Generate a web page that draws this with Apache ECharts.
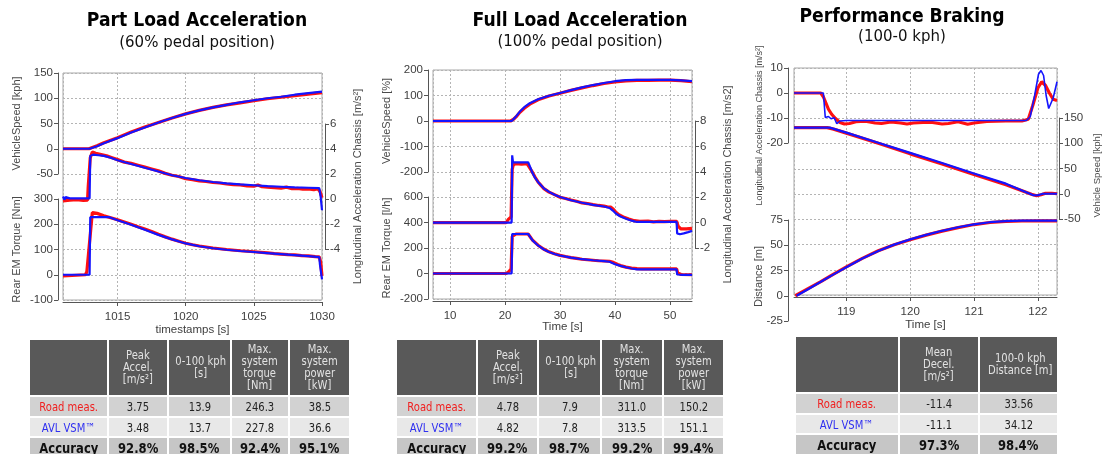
<!DOCTYPE html>
<html>
<head>
<meta charset="utf-8">
<script src="https://cdn.jsdelivr.net/npm/echarts@6/dist/echarts.min.js"></script>
<style>
  html, body { margin: 0; padding: 0; background: #fff; }
  #wrap { position: relative; width: 1107px; height: 454px; overflow: hidden; }
  #chart { position: absolute; left: 0; top: 0; width: 1107px; height: 454px; }
  table.kpi { position: absolute; z-index: 2; border-collapse: separate; border-spacing: 2px; table-layout: fixed;
    font-family: "DejaVu Sans", sans-serif; font-size: 12.5px; color: #222; }
  table.kpi td { padding: 0; text-align: center; vertical-align: middle; overflow: hidden; white-space: nowrap; }
  table.kpi td span { display: inline-block; transform: scaleX(0.8); line-height: 12.3px; }
  table.kpi td.hd { background: #595959; color: #e2e2e2; }
  table.kpi tr.road td { background: #d2d2d2; }
  table.kpi tr.sim td { background: #e8e8e8; }
  table.kpi tr.acc td { background: #c6c6c6; font-weight: bold; font-size: 14.5px; color: #111; }
  table.kpi tr.road td.lbl { color: #f02020; }
  table.kpi tr.sim td.lbl { color: #3030f0; }
</style>
</head>
<body>
<div id="wrap"><div id="chart"></div></div>
<script>
// ---- 데이터: [시간, 값] ----
// Part Load Acceleration (60% pedal)
const p1SpeedRoad = [[1011,0],[1012.9,0],[1013.5,6],[1014,12],[1015,22],[1016,33],[1017,43],[1018,52],[1019,61],[1020,69],[1021,76],[1022,82],[1023,87],[1024,91],[1025,95],[1026,99],[1027,102],[1028,105],[1029,108],[1030,111]];
const p1SpeedSim = [[1011,0],[1012.95,0],[1013.5,5],[1014,11],[1015,21],[1016,32],[1017,42],[1018,52],[1019,61],[1020,69],[1021,76],[1022,82],[1023,87],[1024,92],[1025,96],[1026,100],[1027,103],[1028,107],[1029,110],[1030,113]];
const p1AccelRoad = [[1011,-0.15],[1011.5,-0.1],[1012,-0.05],[1012.5,-0.12],[1012.8,-0.1],[1012.85,1],[1013,3.3],[1013.15,3.75],[1013.4,3.65],[1013.8,3.55],[1014.2,3.45],[1014.6,3.3],[1015,3.15],[1015.5,2.95],[1016,2.85],[1016.5,2.7],[1017,2.55],[1017.5,2.4],[1018,2.25],[1018.5,2.05],[1019,1.9],[1019.5,1.8],[1020,1.62],[1020.5,1.55],[1021,1.45],[1021.5,1.4],[1022,1.32],[1022.5,1.28],[1023,1.2],[1023.5,1.15],[1024,1.12],[1024.5,1.05],[1025,1.02],[1025.3,1.12],[1025.6,0.98],[1026,0.95],[1026.5,0.9],[1027,0.87],[1027.4,0.95],[1027.8,0.82],[1028.2,0.85],[1028.6,0.78],[1029,0.8],[1029.4,0.74],[1029.7,0.82],[1029.85,0.6],[1030,0.1]];
const p1AccelSim = [[1011,0.2],[1011.1,-0.05],[1011.2,0.15],[1011.3,0],[1011.5,0.05],[1012,0.05],[1012.95,0.05],[1013,3.45],[1013.2,3.55],[1013.6,3.5],[1014,3.45],[1014.5,3.3],[1015,3.1],[1016,2.8],[1017,2.5],[1018,2.2],[1019,1.9],[1020,1.68],[1021,1.5],[1022,1.36],[1023,1.25],[1024,1.17],[1025,1.1],[1026,1.03],[1027,0.98],[1028,0.93],[1029,0.9],[1029.8,0.87],[1029.9,0.2],[1030,-0.9]];
const p1TorqueRoad = [[1011,-5],[1011.1,0],[1012.65,0],[1012.75,12],[1013.15,246],[1013.5,243],[1014,234],[1014.5,226],[1015,218],[1015.5,209],[1016,200],[1016.5,190],[1017,181],[1017.5,171],[1018,160],[1018.5,150],[1019,141],[1019.5,133],[1020,125],[1020.5,119],[1021,114],[1022,106],[1022.5,103],[1023,100],[1024,95],[1025,91],[1026,87],[1026.5,84],[1027,82],[1027.5,80],[1028,79],[1028.5,76],[1029,75],[1029.5,72],[1029.8,71],[1029.9,50],[1030,-5]];
const p1TorqueSim = [[1011,0],[1012.95,0],[1013,228],[1014.4,228],[1015,216],[1016,198],[1017,178],[1018,158],[1019,140],[1020,124],[1021,113],[1022,105],[1023,99],[1024,94],[1025,90],[1026,86],[1027,82],[1028,78],[1029,74],[1029.8,70],[1029.85,40],[1030,-18]];

// Full Load Acceleration (100% pedal)
const p2SpeedRoad = [[6.9,0],[21,0],[21.5,6],[22,16],[22.7,34],[23.5,50],[24.5,66],[26,83],[28,98],[30,109],[32,120],[34,130],[36,139],[38,147],[40,153],[42,157],[44,159],[46,159],[48,160],[50,160],[52,158],[54,154]];
const p2SpeedSim = [[6.9,0],[21.2,0],[22,18],[22.7,37],[23.5,54],[24.5,70],[26,85],[28,99],[30,110],[32,121],[34,132],[36,141],[38,149],[40,156],[42,160],[44,161],[46,161],[48,161],[50,161],[52,159],[54,156]];
const p2AccelRoad = [[6.9,0],[20.2,0],[20.6,0.25],[21.1,0.45],[21.3,4.2],[21.5,4.55],[22,4.65],[23,4.6],[24,4.65],[24.5,4.3],[25,3.95],[25.5,3.55],[26,3.2],[26.5,2.95],[27,2.7],[28,2.4],[29,2.2],[30,2.0],[31,1.9],[32,1.78],[33,1.68],[34,1.55],[35,1.5],[36,1.42],[37,1.35],[38,1.3],[38.6,1.25],[39.2,1.22],[39.7,1.05],[40.2,0.8],[40.7,0.62],[41.5,0.45],[42.5,0.28],[43.5,0.15],[44.5,0.1],[46,0.12],[47,0.06],[48,0.1],[49,0.08],[50,0.1],[51.2,0.1],[51.5,-0.3],[52,-0.5],[53,-0.5],[54,-0.45]];
const p2AccelSim = [[6.9,0],[21.2,0],[21.3,5.3],[21.45,4.75],[24.2,4.75],[24.6,4.35],[25,3.9],[25.5,3.5],[26,3.2],[27,2.72],[28,2.42],[29,2.2],[30,2.02],[32,1.76],[34,1.56],[36,1.4],[38,1.27],[39,1.15],[39.6,0.95],[40.2,0.7],[41,0.48],[42,0.3],[43,0.15],[44,0.05],[51.2,0.05],[51.3,-0.85],[51.8,-0.92],[52.5,-0.85],[53.3,-0.75],[54,-0.65]];
const p2TorqueRoad = [[6.9,0],[20.2,0],[20.6,12],[21.1,35],[21.3,290],[21.6,305],[22,310],[24.2,310],[25,262],[26,222],[27,192],[28,170],[29,155],[30,142],[31,133],[32,125],[33,119],[34,112],[35,108],[36,104],[37,100],[38,98],[39,96],[39.5,90],[40,80],[40.5,70],[41,62],[42,50],[43,42],[44,38],[45,36],[48,36],[51.2,36],[51.4,5],[52,-8],[54,-10]];
const p2TorqueSim = [[6.9,0],[21.2,0],[21.3,310],[24.2,310],[25,260],[26,220],[27,190],[28,168],[29,153],[30,141],[32,124],[34,112],[36,104],[38,97],[39,92],[40,73],[41,60],[42,49],[43,39],[44,32],[51.2,32],[51.3,-8],[52,-10],[54,-10]];

// Performance Braking (100-0 kph)
const p3AccelRoad = [[118.18,0],[118.6,0],[118.64,-1.5],[118.68,-4],[118.72,-6.5],[118.77,-8.5],[118.83,-10.2],[118.9,-11.8],[118.97,-12.4],[119.05,-12.2],[119.15,-11.5],[119.3,-11.3],[119.45,-12],[119.55,-12.2],[119.7,-11.6],[119.85,-12],[119.95,-12.4],[120.05,-12],[120.2,-11.8],[120.35,-11.8],[120.5,-12.4],[120.6,-12.2],[120.75,-11.5],[120.9,-12.5],[121,-12],[121.2,-11.4],[121.5,-11.2],[121.75,-11.2],[121.85,-10.5],[121.92,-5],[122,2],[122.06,4.5],[122.12,3],[122.18,0],[122.24,-2.5],[122.3,-3]];
const p3AccelSim = [[118.18,0],[118.64,0],[118.67,-9.8],[118.72,-9.4],[118.76,-10.3],[118.81,-9.9],[118.85,-12.3],[118.9,-11.2],[119,-11],[121.82,-11],[121.88,-9.5],[121.95,-1],[122.01,7.5],[122.05,9],[122.09,7],[122.13,-1],[122.17,-6.2],[122.2,-6.5],[122.24,-2],[122.3,4.5]];
const p3SpeedRoad = [[118.18,131],[118.7,131],[118.8,128],[119,120],[119.5,100],[120,79],[120.5,59],[121,38],[121.5,18],[121.9,-1],[121.98,-4],[122.05,-2],[122.12,1],[122.22,1],[122.3,0]];
const p3SpeedSim = [[118.18,131],[118.74,131],[119,121],[119.5,101],[120,81],[120.5,61],[121,40],[121.5,20],[121.93,-3],[122,-3],[122.08,0],[122.3,0]];
const p3DistRoad = [[118.2,0],[118.4,7],[118.6,14],[118.8,21.5],[119,28.5],[119.25,37],[119.5,44.5],[119.75,50.5],[120,55.5],[120.25,60],[120.5,64],[120.75,67.5],[121,70.5],[121.25,72.5],[121.5,73.6],[121.75,74],[122,74.2],[122.3,74.2]];
const p3DistSim = [[118.22,0],[118.4,6.5],[118.6,13.8],[118.8,21.2],[119,28.3],[119.25,36.8],[119.5,44.3],[119.75,50.6],[120,55.8],[120.25,60.3],[120.5,64.3],[120.75,67.8],[121,70.7],[121.25,72.8],[121.5,73.9],[121.75,74.3],[122,74.4],[122.3,74.4]];

// 표
const p1Heads = [["Peak","Accel.","[m/s²]"],["0-100 kph","[s]"],["Max.","system","torque","[Nm]"],["Max.","system","power","[kW]"]];
const p1Road = ["3.75","13.9","246.3","38.5"];
const p1Sim = ["3.48","13.7","227.8","36.6"];
const p1Acc = ["92.8%","98.5%","92.4%","95.1%"];
const p2Heads = p1Heads;
const p2Road = ["4.78","7.9","311.0","150.2"];
const p2Sim = ["4.82","7.8","313.5","151.1"];
const p2Acc = ["99.2%","98.7%","99.2%","99.4%"];
const p3Heads = [["Mean","Decel.","[m/s²]"],["100-0 kph","Distance [m]"]];
const p3Road = ["-11.4","33.56"];
const p3Sim = ["-11.1","34.12"];
const p3Acc = ["97.3%","98.4%"];
const rowLabels = ["Road meas.", "AVL VSM™", "Accuracy"];

const RED = "#ff1010", BLUE = "#1414ff";
const AX = "#555555", LBL = "#404040", GRIDC = "#b4b4b4";
const AXFONT = "Liberation Sans, Arial, sans-serif";

const panels = [
  { left: 63, top: 73, width: 259, height: 227, xMin: 1011, xMax: 1030, xStep: 5, xName: "timestamps [s]", xMaxLabel: true, xGap: 22,
    axes: [
      { side: "left", top: 73, height: 101, min: -50, max: 150, step: 50, offset: 5, name: "VehicleSpeed [kph]", gap: 36, road: p1SpeedRoad, sim: p1SpeedSim },
      { side: "left", top: 199, height: 101, min: -100, max: 300, step: 100, offset: 5, name: "Rear EM Torque [Nm]", gap: 36, road: p1TorqueRoad, sim: p1TorqueSim },
      { side: "right", top: 124, height: 125, min: -4, max: 6, step: 2, offset: 3, name: "Longitudinal Acceleration Chassis [m/s²]", gap: 27, road: p1AccelRoad, sim: p1AccelSim },
    ] },
  { left: 433, top: 70, width: 259, height: 229, xMin: 6.9, xMax: 54, xStep: 10, xName: "Time [s]", xMaxLabel: false, xGap: 20,
    axes: [
      { side: "left", top: 70, height: 102, min: -200, max: 200, step: 100, offset: 5, name: "VehicleSpeed [%]", gap: 36, road: p2SpeedRoad, sim: p2SpeedSim },
      { side: "left", top: 197, height: 102, min: -200, max: 600, step: 200, offset: 5, name: "Rear EM Torque [l/h]", gap: 36, road: p2TorqueRoad, sim: p2TorqueSim },
      { side: "right", top: 121, height: 127, min: -2, max: 8, step: 2, offset: 3, name: "Longitudinal Acceleration Chassis [m/s2]", gap: 27, road: p2AccelRoad, sim: p2AccelSim },
    ] },
  { left: 794, top: 68, width: 263, height: 227, xMin: 118.18, xMax: 122.3, xStep: 1, xName: "Time [s]", xMaxLabel: false, xGap: 22,
    axes: [
      { side: "left", top: 68, height: 75, min: -20, max: 10, step: 10, offset: 6, name: "Longitudinal Acceleration Chassis [m/s²]", gap: 24, shift: -20, nameSize: 9, simWidth: 1.6, road: p3AccelRoad, sim: p3AccelSim },
      { side: "left", top: 220, height: 101, min: -25, max: 75, step: 25, offset: 6, name: "Distance [m]", gap: 24, shift: -6, road: p3DistRoad, sim: p3DistSim },
      { side: "right", top: 118, height: 101, min: -50, max: 150, step: 50, offset: 2, name: "Vehicle Speed [kph]", gap: 33, shift: -7, nameSize: 9.5, road: p3SpeedRoad, sim: p3SpeedSim },
    ] },
];

const option = { animation: false, grid: [], xAxis: [], yAxis: [], series: [], graphic: [] };
const dotted = { show: true, lineStyle: { color: GRIDC, width: 1, type: [2, 2] } };
const plainNum = (v) => String(Math.round(v * 100) / 100);

panels.forEach((p) => {
  // 배경 프레임 + 격자
  const g = option.grid.length;
  option.grid.push({ left: p.left, top: p.top, width: p.width, height: p.height, show: true,
    borderColor: "#a8a8a8", borderWidth: 1, backgroundColor: "transparent", containLabel: false, outerBoundsMode: "none" });
  option.xAxis.push({ gridIndex: g, type: "value", min: p.xMin, max: p.xMax, minInterval: p.xStep, maxInterval: p.xStep,
    offset: 2, axisLine: { show: true, onZero: false, lineStyle: { color: AX } },
    axisTick: { show: true, length: 4, lineStyle: { color: AX } },
    axisLabel: { fontSize: 11.5, color: LBL, fontFamily: AXFONT, margin: 9, formatter: plainNum,
      showMinLabel: false, showMaxLabel: p.xMaxLabel },
    splitLine: dotted,
    name: p.xName, nameLocation: "middle", nameGap: p.xGap, nameMoveOverlap: false,
    nameTextStyle: { fontSize: 11.5, color: LBL, fontFamily: AXFONT } });
  option.yAxis.push({ gridIndex: g, type: "value", min: 0, max: 9, interval: 1,
    axisLine: { show: false }, axisTick: { show: false }, axisLabel: { show: false }, splitLine: dotted });

  p.axes.forEach((a) => {
    const gi = option.grid.length;
    option.grid.push({ left: p.left, top: a.top, width: p.width, height: a.height, show: false, containLabel: false, outerBoundsMode: "none" });
    option.xAxis.push({ gridIndex: gi, type: "value", min: p.xMin, max: p.xMax, show: false });
    const s = a.shift || 0; // 이름 위치 보정(+ 위, - 아래)
    const pad = s > 0 ? [0, 0, 0, 2 * s] : [0, -2 * s, 0, 0];
    option.yAxis.push({ gridIndex: gi, type: "value", position: a.side, offset: a.offset,
      min: a.min, max: a.max, interval: a.step,
      axisLine: { show: true, lineStyle: { color: AX } },
      axisTick: { show: true, length: 4, lineStyle: { color: AX } },
      axisLabel: { fontSize: 11.5, color: LBL, fontFamily: AXFONT, margin: 5 },
      splitLine: { show: false },
      name: a.name, nameLocation: "middle", nameGap: a.gap, nameMoveOverlap: false,
      nameTextStyle: { fontSize: a.nameSize || 11, color: "#4a4a4a", fontFamily: AXFONT, padding: pad } });
    option.series.push(
      { type: "line", xAxisIndex: gi, yAxisIndex: gi, data: a.road, showSymbol: false, symbol: "none", clip: false, silent: true, z: 3,
        lineStyle: { color: RED, width: 3.2 } },
      { type: "line", xAxisIndex: gi, yAxisIndex: gi, data: a.sim, showSymbol: false, symbol: "none", clip: false, silent: true, z: 4,
        lineStyle: { color: BLUE, width: a.simWidth || 2.2 } });
  });
});

// 제목
const titles = [
  { x: 197, t: "Part Load Acceleration", s: "(60% pedal position)", ty: 21, sy: 43 },
  { x: 580, t: "Full Load Acceleration", s: "(100% pedal position)", ty: 21, sy: 42 },
  { x: 902, t: "Performance Braking", s: "(100-0 kph)", ty: 17, sy: 37 },
];
titles.forEach((t) => {
  option.graphic.push(
    { type: "text", x: t.x, y: t.ty, scaleX: 0.86, silent: true,
      style: { text: t.t, font: "bold 20px 'DejaVu Sans'", fill: "#000", textAlign: "center", textVerticalAlign: "middle", align: "center", verticalAlign: "middle" } },
    { type: "text", x: t.x, y: t.sy, silent: true,
      style: { text: t.s, font: "15px 'DejaVu Sans'", fill: "#111", textAlign: "center", textVerticalAlign: "middle", align: "center", verticalAlign: "middle" } });
});

const chart = echarts.init(document.getElementById("chart"), null, { renderer: "canvas" });
chart.setOption(option);

// 표 (HTML)
function buildTable(left, top, widths, heads, road, sim, acc, hH) {
  const t = document.createElement("table");
  t.className = "kpi";
  t.style.left = (left - 2) + "px";
  t.style.top = (top - 2) + "px";
  t.style.width = (widths.reduce((a, b) => a + b, 0) + 2 * (widths.length + 1)) + "px";
  let h = "<colgroup>" + widths.map((w) => `<col style="width:${w}px">`).join("") + "</colgroup>";
  h += `<tr style="height:${hH}px"><td class="hd"></td>` + heads.map((x) => `<td class="hd"><span>${x.join("<br>")}</span></td>`).join("") + "</tr>";
  h += `<tr class="road" style="height:19px"><td class="lbl"><span>${rowLabels[0]}</span></td>` + road.map((v) => `<td><span>${v}</span></td>`).join("") + "</tr>";
  h += `<tr class="sim" style="height:18px"><td class="lbl"><span>${rowLabels[1]}</span></td>` + sim.map((v) => `<td><span>${v}</span></td>`).join("") + "</tr>";
  h += `<tr class="acc" style="height:20px"><td><span>${rowLabels[2]}</span></td>` + acc.map((v) => `<td><span>${v}</span></td>`).join("") + "</tr>";
  t.innerHTML = h;
  document.getElementById("wrap").appendChild(t);
}
buildTable(30, 340, [77, 58, 61, 56, 59], p1Heads, p1Road, p1Sim, p1Acc, 55);
buildTable(397, 340, [79, 59, 61, 60, 59], p2Heads, p2Road, p2Sim, p2Acc, 55);
buildTable(796, 337, [102, 78, 77], p3Heads, p3Road, p3Sim, p3Acc, 55);
</script>
</body>
</html>
